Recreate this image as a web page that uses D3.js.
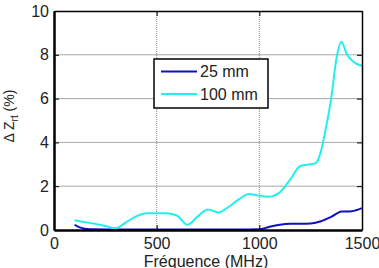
<!DOCTYPE html>
<html>
<head>
<meta charset="utf-8">
<script src="https://cdn.jsdelivr.net/npm/d3@7"></script>
<style>
  body { margin: 0; background: #fff; }
  svg { display: block; font-family: "Liberation Sans", Arial, sans-serif; }
</style>
</head>
<body>
<div id="chartArea"></div>
<script>
const w = 379;
const h = 268;
const margin = {top: 11, right: 17, bottom: 38, left: 54};

// 100 mm series (cyan)
const freq100 = [100, 150, 200, 250, 300, 350, 400, 450, 500, 550, 600, 650, 700, 750, 800, 850, 900, 950,
    1000, 1050, 1100, 1150, 1200, 1250, 1275, 1300, 1325, 1350, 1375, 1400, 1425, 1450, 1475, 1500];
const val100 = [0.45, 0.36, 0.28, 0.18, 0.08, 0.35, 0.62, 0.77, 0.77, 0.77, 0.65, 0.24, 0.62, 0.94, 0.8, 1.05,
    1.4, 1.64, 1.56, 1.52, 1.72, 2.3, 2.92, 3.0, 3.05, 3.6, 4.7, 6.0, 7.8, 8.6, 8.05, 7.75, 7.58, 7.5];

// 25 mm series (blue)
const freq25 = [100, 125, 150, 200, 300, 400, 500, 600, 700, 800, 900, 1000, 1050, 1100, 1150, 1200,
    1250, 1300, 1350, 1400, 1450, 1500];
const val25 = [0.24, 0.12, 0.06, 0.03, 0.02, 0.02, 0.02, 0.02, 0.02, 0.02, 0.02, 0.03, 0.15, 0.24, 0.28,
    0.28, 0.3, 0.4, 0.6, 0.84, 0.86, 1.0];

const xTicks = [0, 500, 1000, 1500];
const yTicks = [0, 2, 4, 6, 8, 10];
const legendNames = ["25 mm", "100 mm"];
const colors = ["#1010c0", "#22eeee"];

const svg = d3.select("#chartArea")
    .append("svg")
    .attr("width", w)
    .attr("height", h);

const x = d3.scaleLinear()
    .domain([0, 1500])
    .range([margin.left, w - margin.right]);

const y = d3.scaleLinear()
    .domain([0, 10])
    .range([h - margin.bottom, margin.top]);

// grid
svg.append("g")
    .selectAll("line")
    .data(yTicks.slice(1, -1))
    .enter()
    .append("line")
    .attr("x1", x(0)).attr("x2", x(1500))
    .attr("y1", d => y(d)).attr("y2", d => y(d))
    .attr("stroke", "#a8a8a8")
    .attr("stroke-width", 1);

svg.append("g")
    .selectAll("line")
    .data(xTicks.slice(1, -1))
    .enter()
    .append("line")
    .attr("x1", d => x(d)).attr("x2", d => x(d))
    .attr("y1", y(0)).attr("y2", y(10))
    .attr("stroke", "#888")
    .attr("stroke-dasharray", "1,1")
    .attr("stroke-width", 1);

// data lines
const line = d3.line()
    .x(d => x(d[0]))
    .y(d => y(d[1]))
    .curve(d3.curveMonotoneX);

const series = [
    d3.zip(freq25, val25),
    d3.zip(freq100, val100)
];

svg.append("g")
    .selectAll("path")
    .data(series)
    .enter()
    .append("path")
    .attr("d", line)
    .attr("fill", "none")
    .attr("stroke", (d, i) => colors[i])
    .attr("stroke-width", 2);

// axes
const xAxis = d3.axisBottom(x)
    .tickValues(xTicks)
    .tickSizeInner(-5)
    .tickSizeOuter(0)
    .tickPadding(8)
    .tickFormat(d3.format("d"));

const yAxis = d3.axisLeft(y)
    .tickValues(yTicks)
    .tickSizeInner(-5)
    .tickSizeOuter(0)
    .tickPadding(5)
    .tickFormat(d3.format("d"));

const gx = svg.append("g")
    .attr("transform", `translate(0,${y(0)})`)
    .call(xAxis);

const gy = svg.append("g")
    .attr("transform", `translate(${x(0)},0)`)
    .call(yAxis);

// top and right ticks
svg.append("g")
    .attr("transform", `translate(0,${y(10)})`)
    .call(d3.axisTop(x).tickValues(xTicks).tickSizeInner(-5).tickSizeOuter(0).tickFormat(""));

svg.append("g")
    .attr("transform", `translate(${x(1500)},0)`)
    .call(d3.axisRight(y).tickValues(yTicks).tickSizeInner(-5).tickSizeOuter(0).tickFormat(""));

svg.selectAll(".tick line").attr("stroke", "#000").attr("stroke-width", 1);
svg.selectAll(".domain").attr("stroke", "#000").attr("stroke-width", 1.5);
gx.select(".domain").attr("stroke-width", 2.5);
gy.select(".domain").attr("stroke-width", 2.5);

svg.selectAll(".tick text")
    .attr("font-size", 16)
    .attr("font-family", "Liberation Sans, Arial, sans-serif")
    .attr("fill", "#222");

// axis labels
svg.append("text")
    .attr("x", 206)
    .attr("y", 266.5)
    .attr("text-anchor", "middle")
    .attr("font-size", 16)
    .attr("fill", "#222")
    .text("Fréquence (MHz)");

const yl = svg.append("text")
    .attr("transform", `translate(14,116) rotate(-90)`)
    .attr("text-anchor", "middle")
    .attr("font-size", 14)
    .attr("fill", "#222");
yl.append("tspan").text("Δ Z");
yl.append("tspan").attr("font-size", 10).attr("dy", 4).text("rt");
yl.append("tspan").attr("dy", -4).text(" (%)");

// legend
const legend = svg.append("g");
legend.append("rect")
    .attr("x", 154)
    .attr("y", 59)
    .attr("width", 114)
    .attr("height", 49)
    .attr("fill", "#fff")
    .attr("stroke", "#000")
    .attr("stroke-width", 1.5);

const items = legend.selectAll(".item")
    .data(legendNames)
    .enter()
    .append("g")
    .attr("class", "item")
    .attr("transform", (d, i) => `translate(161,${71.5 + i * 22.5})`);

items.append("line")
    .attr("x1", 0).attr("x2", 36)
    .attr("stroke", (d, i) => colors[i])
    .attr("stroke-width", 2);

items.append("text")
    .attr("x", 39)
    .attr("dy", "0.36em")
    .attr("font-size", 16)
    .attr("fill", "#222")
    .text(d => d);
</script>
</body>
</html>
